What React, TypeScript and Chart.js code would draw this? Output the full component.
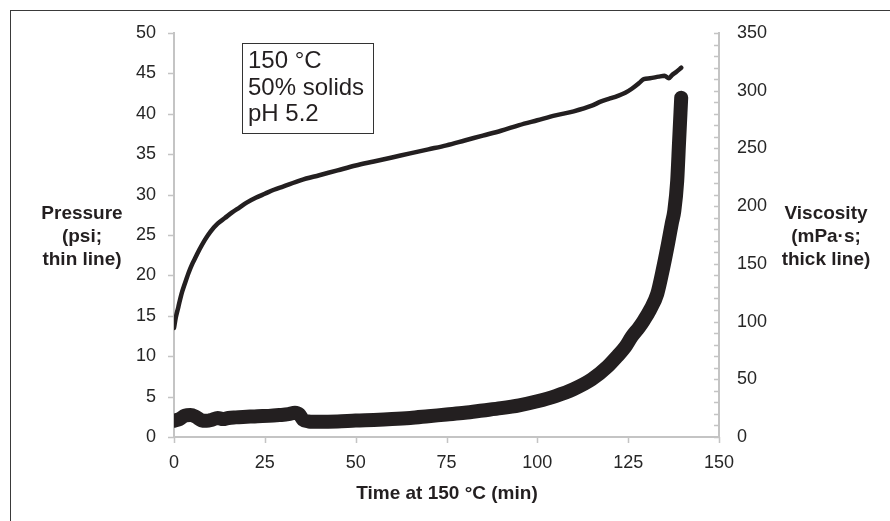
import React, { useEffect, useRef } from 'react';
import { Chart, registerables } from 'chart.js';
Chart.register(...registerables);

// ---- data ----
const pressureTime = [0, 0.5, 1.2, 2, 3, 4, 5, 6, 7, 8.5, 10, 12, 14, 16, 18, 20, 22.5, 25, 27.5, 30, 35, 40, 45, 50, 55, 60, 65, 70, 75, 80, 85, 90, 95, 100, 105, 110, 115, 117.4, 120, 122, 124.2, 126, 128, 129.3, 131, 133.4, 135, 136.2, 137.1, 138.3, 139.6];
const pressurePsi = [13.5, 14.8, 16.1, 17.6, 19.0, 20.3, 21.4, 22.3, 23.2, 24.4, 25.4, 26.4, 27.1, 27.8, 28.4, 29.0, 29.6, 30.1, 30.6, 31.0, 31.8, 32.4, 33.0, 33.6, 34.1, 34.6, 35.1, 35.6, 36.1, 36.7, 37.3, 37.9, 38.6, 39.2, 39.8, 40.3, 41.0, 41.5, 41.9, 42.2, 42.6, 43.1, 43.8, 44.3, 44.4, 44.6, 44.7, 44.4, 44.8, 45.2, 45.7];

const viscosityTime = [0, 1.5, 3, 4.5, 6, 7.5, 9, 10.5, 12, 13.5, 15, 17, 20, 23, 26, 29, 31.5, 33.3, 34.5, 35.5, 37, 40, 45, 50, 55, 60, 65, 70, 75, 80, 85, 90, 95, 100, 105, 110, 115, 119.3, 122, 124.2, 126, 128, 129.3, 131, 133, 134.6, 136, 137, 137.7, 138.5, 139, 139.6];
const viscosityMPas = [14, 15.5, 18.5, 19, 17.5, 14.5, 14, 15, 16.5, 15.5, 16.5, 17, 17.5, 18, 18.3, 19, 19.8, 21, 19.5, 15, 13.5, 13.2, 13.5, 14.3, 14.8, 15.5, 16.5, 18, 19.5, 21, 23, 25, 27.5, 31, 35.5, 41.5, 50, 61, 70, 78, 87, 95, 101, 110, 124, 146, 168, 185, 196, 222, 255, 294];

const xTickValues = [0, 25, 50, 75, 100, 125, 150];
const pressureTickValues = [0, 5, 10, 15, 20, 25, 30, 35, 40, 45, 50];
const viscosityMinorTicks = Array.from({ length: 36 }, (_, i) => i * 10);

const noteLines = ['150 °C', '50% solids', 'pH 5.2'];
const xTitle = 'Time at 150 °C (min)';
const leftTitle = ['Pressure', '(psi;', 'thin line)'];
const rightTitle = ['Viscosity', '(mPa·s;', 'thick line)'];

const FONT = '"Liberation Sans", Arial, Helvetica, sans-serif';
const INK = '#231f20';
const AXIS = '#c4c4c4';

const tickPlugin = {
  id: 'tickMarks',
  afterDraw(chart: any) {
    const ctx = chart.ctx;
    const x = chart.scales.x, y = chart.scales.y, y2 = chart.scales.y2;
    const area = chart.chartArea;
    ctx.save();
    ctx.strokeStyle = AXIS;
    ctx.lineWidth = 1.5;
    ctx.beginPath();
    pressureTickValues.forEach(v => {
      const py = Math.round(y.getPixelForValue(v)) + 0.5;
      ctx.moveTo(area.left - 6, py);
      ctx.lineTo(area.left, py);
    });
    viscosityMinorTicks.forEach(v => {
      const py = Math.round(y2.getPixelForValue(v)) + 0.5;
      ctx.moveTo(area.right - 5, py);
      ctx.lineTo(area.right, py);
    });
    xTickValues.forEach(v => {
      const px = Math.round(x.getPixelForValue(v)) + 0.5;
      ctx.moveTo(px, area.bottom);
      ctx.lineTo(px, area.bottom + 6);
    });
    ctx.stroke();
    ctx.restore();
  },
};

export default function App() {
  const ref = useRef<HTMLCanvasElement | null>(null);
  useEffect(() => {
    if (!ref.current) return;
    const tickFont = { family: FONT, size: 18 };
    const chart = new Chart(ref.current, {
      type: 'line',
      data: {
        datasets: [
          {
            label: 'Viscosity',
            data: viscosityTime.map((t, i) => ({ x: t, y: viscosityMPas[i] })),
            yAxisID: 'y2',
            borderColor: INK,
            backgroundColor: INK,
            borderWidth: 14,
            borderCapStyle: 'round',
            borderJoinStyle: 'round',
            pointRadius: 0,
            cubicInterpolationMode: 'monotone',
            fill: false,
          },
          {
            label: 'Pressure',
            data: pressureTime.map((t, i) => ({ x: t, y: pressurePsi[i] })),
            yAxisID: 'y',
            borderColor: INK,
            backgroundColor: INK,
            borderWidth: 4.5,
            borderCapStyle: 'round',
            borderJoinStyle: 'round',
            pointRadius: 0,
            cubicInterpolationMode: 'monotone',
            fill: false,
          },
        ],
      },
      options: {
        animation: false,
        responsive: false,
        devicePixelRatio: 1,
        layout: { padding: { top: 33, left: 0, right: 0, bottom: 0 } },
        plugins: { legend: { display: false }, tooltip: { enabled: false } },
        scales: {
          x: {
            type: 'linear',
            position: 'bottom',
            min: 0,
            max: 150,
            ticks: { stepSize: 25, font: tickFont, color: '#262626', padding: 15, maxRotation: 0, autoSkip: false },
            grid: { display: true, drawOnChartArea: false, drawTicks: false },
            border: { display: true, color: AXIS, width: 2 },
            afterFit: (s: any) => { s.height = 84; },
          },
          y: {
            type: 'linear',
            position: 'left',
            min: 0,
            max: 50,
            ticks: { stepSize: 5, font: tickFont, color: '#262626', padding: 18 },
            grid: { display: true, drawOnChartArea: false, drawTicks: false },
            border: { display: true, color: AXIS, width: 2 },
            afterFit: (s: any) => { s.width = 174; },
          },
          y2: {
            type: 'linear',
            position: 'right',
            min: 0,
            max: 350,
            ticks: { stepSize: 50, font: tickFont, color: '#262626', padding: 18 },
            grid: { display: true, drawOnChartArea: false, drawTicks: false },
            border: { display: true, color: AXIS, width: 2 },
            afterFit: (s: any) => { s.width = 171; },
          },
        },
      } as any,
      plugins: [tickPlugin],
    });
    return () => chart.destroy();
  }, []);

  const titleStyle: React.CSSProperties = {
    position: 'absolute',
    fontFamily: FONT,
    fontWeight: 'bold',
    fontSize: 19,
    lineHeight: '23px',
    color: INK,
    textAlign: 'center',
    whiteSpace: 'nowrap',
  };

  return (
    <div style={{ position: 'absolute', left: 0, top: 0, width: 890, height: 521, overflow: 'hidden', background: '#fff' }}>
      <div style={{ position: 'absolute', left: 10, top: 10, width: 900, height: 600, borderLeft: '1.5px solid #3a3a3a', borderTop: '1.5px solid #3a3a3a' }} />
      <canvas ref={ref} width={890} height={521} style={{ position: 'absolute', left: 0, top: 0, width: 890, height: 521 }} />
      <div style={{ position: 'absolute', left: 242, top: 43, width: 125, height: 86, border: '1.5px solid #333', padding: '3px 0 0 5px', boxSizing: 'content-box', fontFamily: FONT, fontSize: 24, lineHeight: '26.5px', color: INK, whiteSpace: 'nowrap' }}>
        {noteLines.map((l, i) => <div key={i}>{l}</div>)}
      </div>
      <div style={{ ...titleStyle, left: 22, width: 120, top: 201 }}>
        {leftTitle.map((l, i) => <div key={i}>{l}</div>)}
      </div>
      <div style={{ ...titleStyle, left: 766, width: 120, top: 201 }}>
        {rightTitle.map((l, i) => <div key={i}>{l}</div>)}
      </div>
      <div style={{ ...titleStyle, left: 247, width: 400, top: 481 }}>{xTitle}</div>
    </div>
  );
}
